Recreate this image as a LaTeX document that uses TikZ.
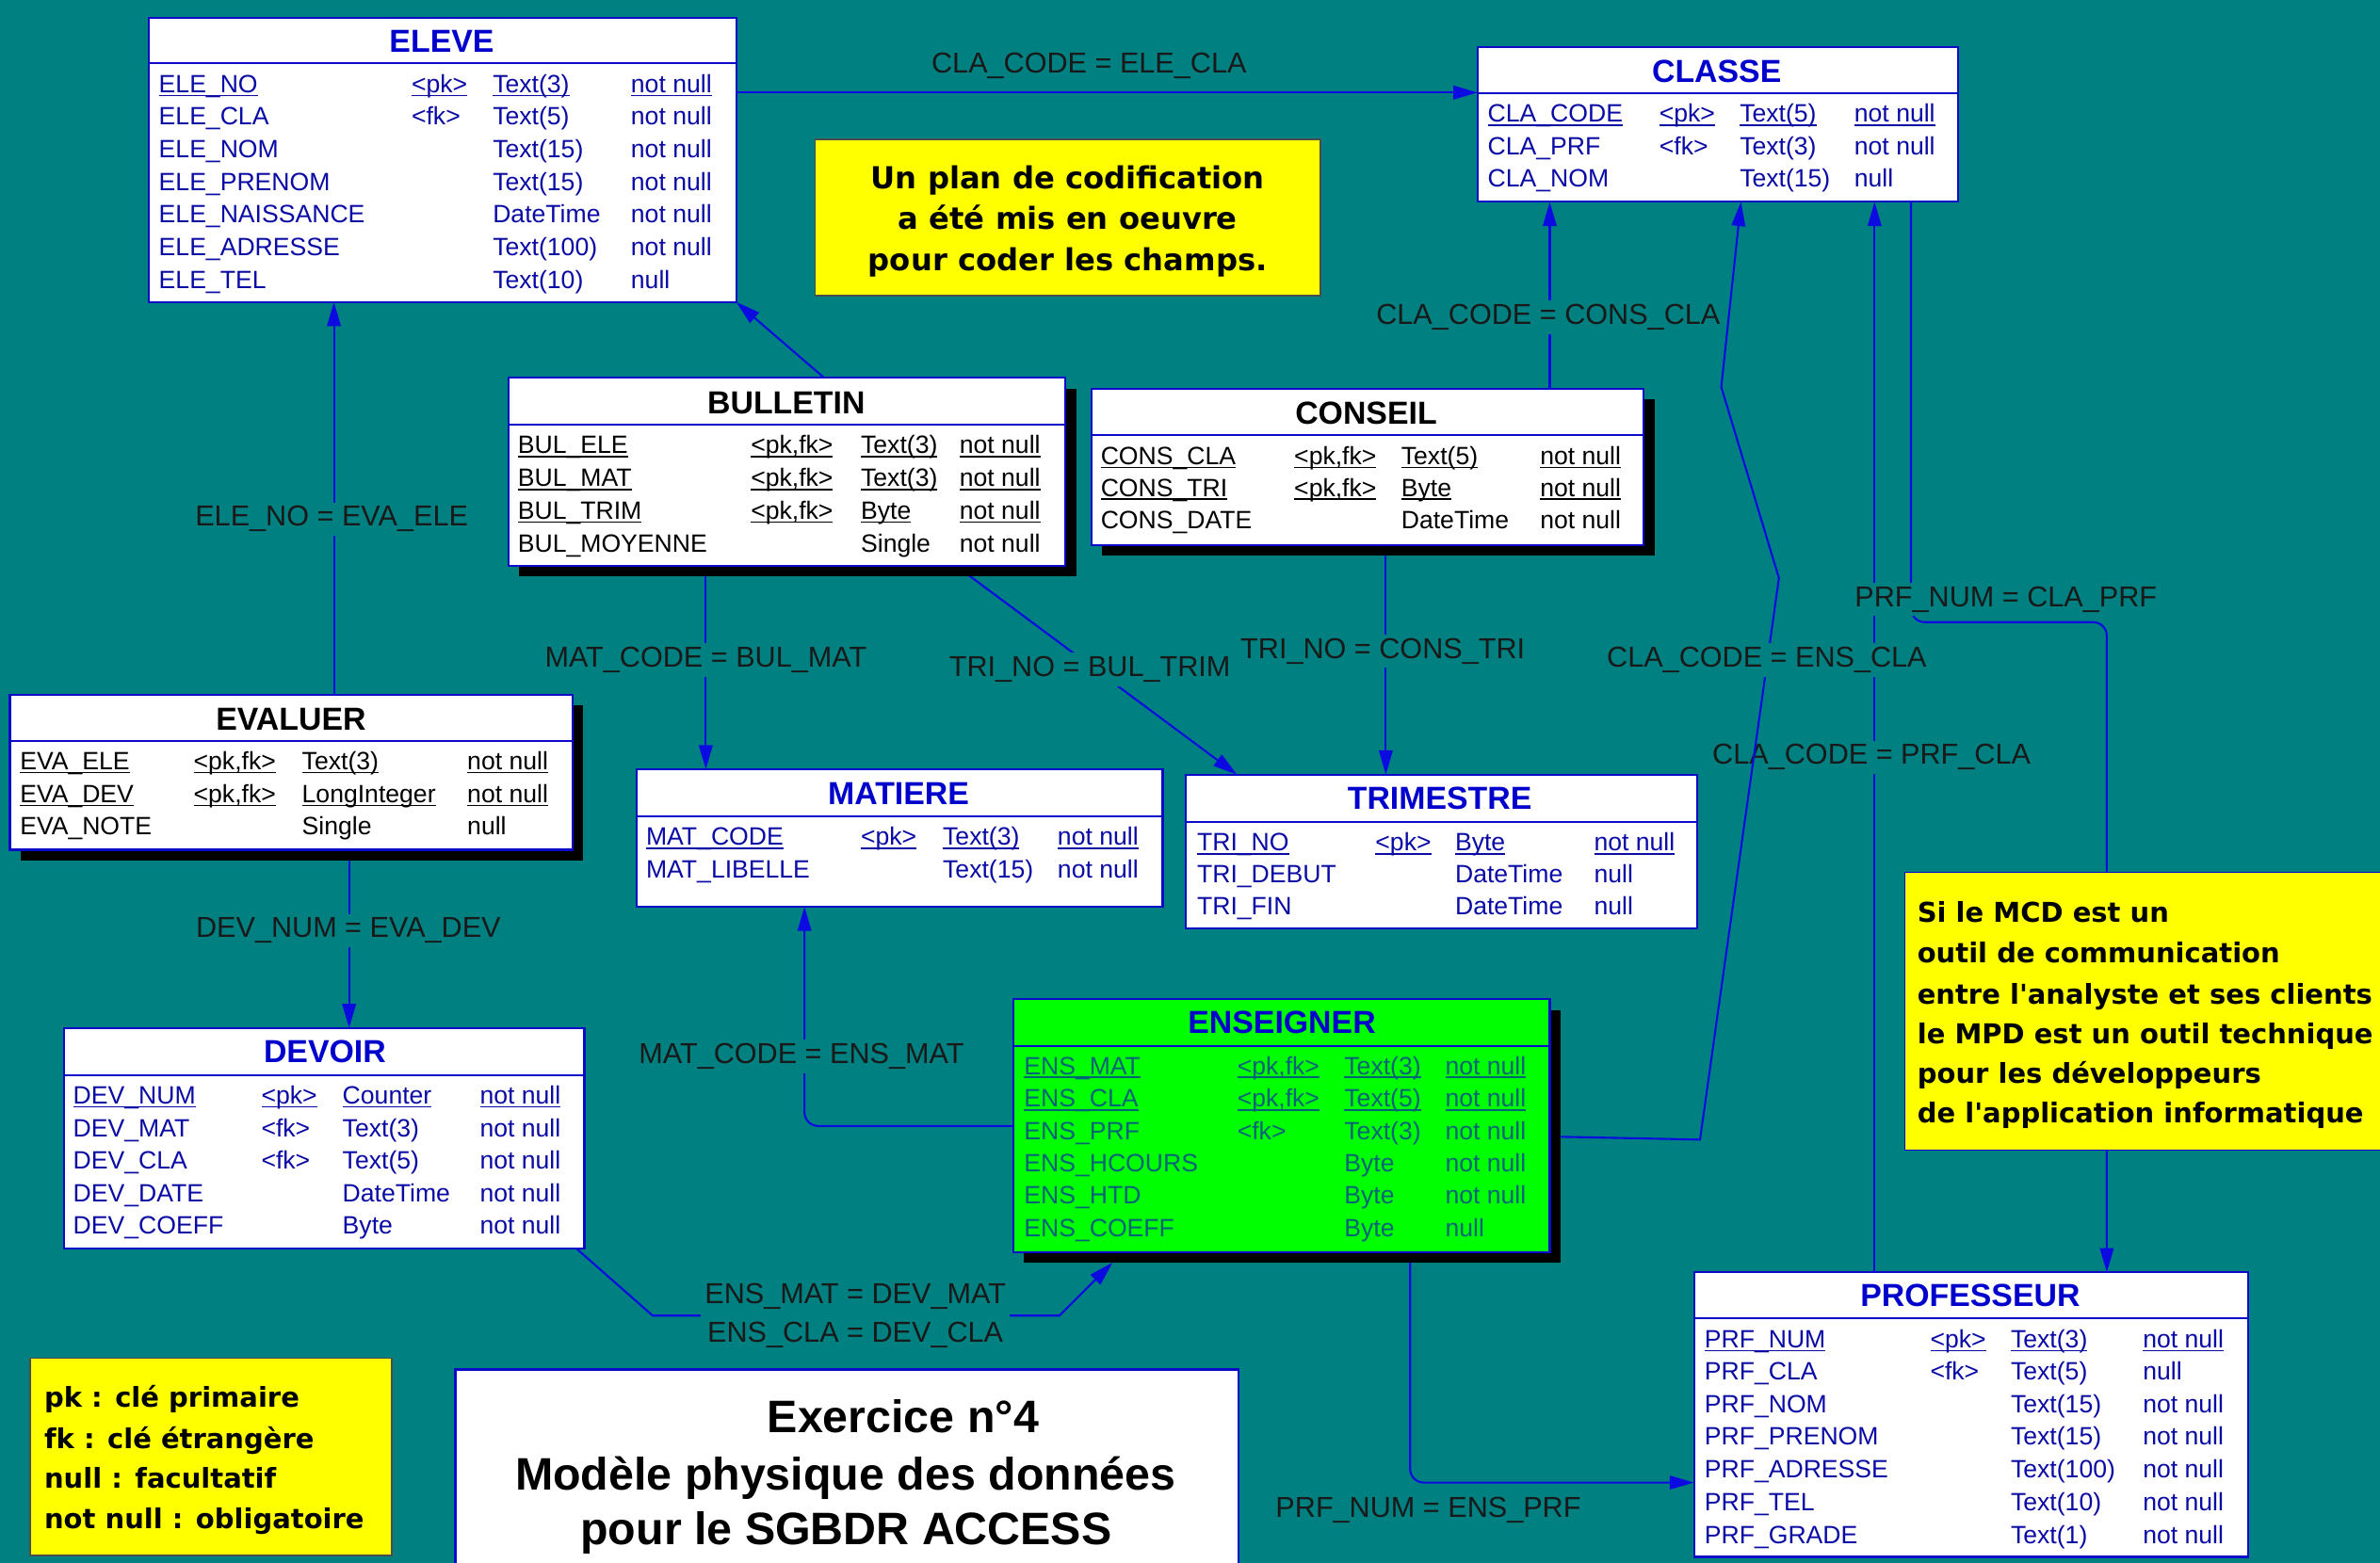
\documentclass[tikz,border=0pt]{standalone}
\usepackage{fontspec}
\setmainfont{Liberation Sans}
\newfontfamily\djv{DejaVu Sans}
\usetikzlibrary{arrows.meta}
\definecolor{bg}{RGB}{0,128,128}
\definecolor{bord}{RGB}{10,10,200}
\definecolor{lineb}{RGB}{10,10,225}
\definecolor{ftxt}{RGB}{10,10,165}
\definecolor{ttlb}{RGB}{0,0,205}
\definecolor{lbl}{RGB}{25,25,25}
\definecolor{enstxt}{RGB}{0,100,120}
\definecolor{grn}{RGB}{0,255,0}
\definecolor{yel}{RGB}{255,255,0}
\pgfdeclarelayer{bgl}
\pgfdeclarelayer{lines}
\pgfsetlayers{bgl,lines,main}
\newcommand\ulx[1]{\setbox0\hbox{#1}\rlap{\rule[-2.6pt]{\wd0}{1.1pt}}\box0}
\def\fcol{ftxt}
\tikzset{
 tblbox/.style={draw=bord, line width=1.3pt, inner sep=0pt, outer sep=0pt},
 shbox/.style={fill=black, draw=none, inner sep=0pt, outer sep=0pt},
 sepline/.style={draw=bord, line width=1.2pt},
 fld/.style={anchor=base west, inner sep=0pt, font=\fontsize{16.5}{18}\selectfont, text=\fcol},
 ttl/.style={anchor=base, inner sep=0pt, font=\fontsize{21}{24}\selectfont\bfseries},
 conn/.style={draw=lineb, line width=1.3pt, -{Triangle[length=16pt,width=9pt]}},
 lab/.style={anchor=base, fill=bg, inner sep=2.5pt, text=lbl, font=\fontsize{19}{25.5}\selectfont},
 notebox/.style={fill=yel, line width=1pt, inner sep=0pt, outer sep=0pt, anchor=north west},
 notet/.style={inner sep=0pt, text=black},
}
\newcommand\tbl[7][white]{%
 \node[tblbox,fill=#1,minimum width=#5-#3,minimum height=#6-#4,anchor=north west] (#2) at (#3,#4) {};
 \draw[sepline] (#2.west |- 0,#7) -- (#2.east |- 0,#7);}
\newcommand\shd[5]{%
 \node[shbox,minimum width=#4-#2,minimum height=#5-#3,anchor=north west] (#1-sh) at (#2+7,#3+7) {};}
\newcommand\trow[7]{%
 \node[fld] (#1-#2a) at (\cA,#3+6) {#4};
 \node[fld] (#1-#2b) at (\cB,#3+6) {#5};
 \node[fld] (#1-#2c) at (\cC,#3+6) {#6};
 \node[fld] (#1-#2d) at (\cD,#3+6) {#7};}
\newcommand\urow[7]{%
 \node[fld] (#1-#2a) at (\cA,#3+6) {\ulx{#4}};
 \node[fld] (#1-#2b) at (\cB,#3+6) {\ulx{#5}};
 \node[fld] (#1-#2c) at (\cC,#3+6) {\ulx{#6}};
 \node[fld] (#1-#2d) at (\cD,#3+6) {\ulx{#7}};}
\begin{document}
\begin{tikzpicture}[x=1pt,y=-1pt]
\useasboundingbox (0,0) rectangle (1568,1030);
\begin{pgfonlayer}{bgl}
\fill[bg] (0,0) rectangle (1568,1030);
\end{pgfonlayer}

% ELEVE
\def\cA{104.5}\def\cB{271}\def\cC{324.5}\def\cD{415.5}
\tbl{eleve}{98}{12}{485}{199}{41.5}
\node[ttl,text=ttlb] (eleve-t) at (291,34.5) {ELEVE};
\urow{eleve}{1}{55}{ELE\_NO}{<pk>}{Text(3)}{not null}
\trow{eleve}{2}{76.5}{ELE\_CLA}{<fk>}{Text(5)}{not null}
\trow{eleve}{3}{98}{ELE\_NOM}{}{Text(15)}{not null}
\trow{eleve}{4}{119.5}{ELE\_PRENOM}{}{Text(15)}{not null}
\trow{eleve}{5}{141}{ELE\_NAISSANCE}{}{DateTime}{not null}
\trow{eleve}{6}{162.5}{ELE\_ADRESSE}{}{Text(100)}{not null}
\trow{eleve}{7}{184}{ELE\_TEL}{}{Text(10)}{null}

% CLASSE
\def\cA{980}\def\cB{1093}\def\cC{1146}\def\cD{1221.5}
\tbl{classe}{973.5}{31}{1290}{133}{61.5}
\node[ttl,text=ttlb] (classe-t) at (1131,54) {CLASSE};
\urow{classe}{1}{74.5}{CLA\_CODE}{<pk>}{Text(5)}{not null}
\trow{classe}{2}{95.8}{CLA\_PRF}{<fk>}{Text(3)}{not null}
\trow{classe}{3}{117}{CLA\_NOM}{}{Text(15)}{null}

% BULLETIN
\def\fcol{black}
\def\cA{341}\def\cB{494.5}\def\cC{567}\def\cD{632}
\shd{bulletin}{335}{249}{702}{373}
\tbl{bulletin}{335}{249}{702}{373}{280}
\node[ttl,text=black] (bulletin-t) at (518,273) {BULLETIN};
\urow{bulletin}{1}{292.7}{BUL\_ELE}{<pk,fk>}{Text(3)}{not null}
\urow{bulletin}{2}{314.5}{BUL\_MAT}{<pk,fk>}{Text(3)}{not null}
\urow{bulletin}{3}{336}{BUL\_TRIM}{<pk,fk>}{Byte}{not null}
\trow{bulletin}{4}{357.8}{BUL\_MOYENNE}{}{Single}{not null}

% CONSEIL
\def\cA{725}\def\cB{852.5}\def\cC{923}\def\cD{1014.5}
\shd{conseil}{719}{256}{1083}{359}
\tbl{conseil}{719}{256}{1083}{359}{286.5}
\node[ttl,text=black] (conseil-t) at (900,279.5) {CONSEIL};
\urow{conseil}{1}{300}{CONS\_CLA}{<pk,fk>}{Text(5)}{not null}
\urow{conseil}{2}{321}{CONS\_TRI}{<pk,fk>}{Byte}{not null}
\trow{conseil}{3}{342.5}{CONS\_DATE}{}{DateTime}{not null}

% EVALUER
\def\cA{13}\def\cB{127.4}\def\cC{198.8}\def\cD{307.7}
\shd{evaluer}{6.5}{458}{377}{560}
\tbl{evaluer}{6.5}{458}{377}{560}{488.5}
\node[ttl,text=black] (evaluer-t) at (191.7,481) {EVALUER};
\urow{evaluer}{1}{501}{EVA\_ELE}{<pk,fk>}{Text(3)}{not null}
\urow{evaluer}{2}{522.8}{EVA\_DEV}{<pk,fk>}{LongInteger}{not null}
\trow{evaluer}{3}{544}{EVA\_NOTE}{}{Single}{null}

% MATIERE
\def\fcol{ftxt}
\def\cA{425.5}\def\cB{567}\def\cC{621}\def\cD{696.6}
\tbl{matiere}{419.5}{507}{766}{597.5}{538}
\node[ttl,text=ttlb] (matiere-t) at (592,530.5) {MATIERE};
\urow{matiere}{1}{551}{MAT\_CODE}{<pk>}{Text(3)}{not null}
\trow{matiere}{2}{572.5}{MAT\_LIBELLE}{}{Text(15)}{not null}

% TRIMESTRE
\def\cA{788.5}\def\cB{906}\def\cC{958.5}\def\cD{1050}
\tbl{trimestre}{781}{510.5}{1118}{612}{541.5}
\node[ttl,text=ttlb] (trimestre-t) at (948.5,533.5) {TRIMESTRE};
\urow{trimestre}{1}{554.5}{TRI\_NO}{<pk>}{Byte}{not null}
\trow{trimestre}{2}{576}{TRI\_DEBUT}{}{DateTime}{null}
\trow{trimestre}{3}{597}{TRI\_FIN}{}{DateTime}{null}

% DEVOIR
\def\cA{48}\def\cB{172}\def\cC{225.5}\def\cD{316}
\tbl{devoir}{42}{677.5}{385}{823}{708.5}
\node[ttl,text=ttlb] (devoir-t) at (214,700.5) {DEVOIR};
\urow{devoir}{1}{721.4}{DEV\_NUM}{<pk>}{Counter}{not null}
\trow{devoir}{2}{743}{DEV\_MAT}{<fk>}{Text(3)}{not null}
\trow{devoir}{3}{764.3}{DEV\_CLA}{<fk>}{Text(5)}{not null}
\trow{devoir}{4}{786}{DEV\_DATE}{}{DateTime}{not null}
\trow{devoir}{5}{807.3}{DEV\_COEFF}{}{Byte}{not null}

% ENSEIGNER
\def\fcol{enstxt}
\def\cA{674.5}\def\cB{815}\def\cC{885.5}\def\cD{952}
\shd{enseigner}{667.5}{658.5}{1021}{825}
\tbl[grn]{enseigner}{667.5}{658.5}{1021}{825}{689.5}
\node[ttl,text=ttlb] (enseigner-t) at (844.5,681) {ENSEIGNER};
\urow{enseigner}{1}{702}{ENS\_MAT}{<pk,fk>}{Text(3)}{not null}
\urow{enseigner}{2}{723.5}{ENS\_CLA}{<pk,fk>}{Text(5)}{not null}
\trow{enseigner}{3}{745}{ENS\_PRF}{<fk>}{Text(3)}{not null}
\trow{enseigner}{4}{766}{ENS\_HCOURS}{}{Byte}{not null}
\trow{enseigner}{5}{787.5}{ENS\_HTD}{}{Byte}{not null}
\trow{enseigner}{6}{809}{ENS\_COEFF}{}{Byte}{null}

% PROFESSEUR
\def\fcol{ftxt}
\def\cA{1122.8}\def\cB{1271.5}\def\cC{1324.6}\def\cD{1411.6}
\tbl{professeur}{1116}{838.5}{1481}{1026}{868.5}
\node[ttl,text=ttlb] (professeur-t) at (1298,861) {PROFESSEUR};
\urow{professeur}{1}{882}{PRF\_NUM}{<pk>}{Text(3)}{not null}
\trow{professeur}{2}{903.4}{PRF\_CLA}{<fk>}{Text(5)}{null}
\trow{professeur}{3}{925}{PRF\_NOM}{}{Text(15)}{not null}
\trow{professeur}{4}{946.3}{PRF\_PRENOM}{}{Text(15)}{not null}
\trow{professeur}{5}{968}{PRF\_ADRESSE}{}{Text(100)}{not null}
\trow{professeur}{6}{989.7}{PRF\_TEL}{}{Text(10)}{not null}
\trow{professeur}{7}{1011}{PRF\_GRADE}{}{Text(1)}{not null}

% Notes
\node[notebox,draw=black!70,minimum width=333,minimum height=103] (note1) at (537,92) {};
\begin{scope}[every node/.style={notet,anchor=base,font=\djv\fontsize{20}{24}\selectfont\bfseries}]
\node (note1-a) at (703.5,124.3) {Un plan de codification};
\node (note1-b) at (703.5,151.3) {a été mis en oeuvre};
\node (note1-c) at (703.5,178.3) {pour coder les champs.};
\end{scope}

\node[notebox,draw=bord,minimum width=330,minimum height=183] (note2) at (1255,575) {};
\begin{scope}[every node/.style={notet,anchor=base west,font=\djv\fontsize{18}{22}\selectfont\bfseries}]
\node (note2-a) at (1263,607.6) {Si le MCD est un};
\node (note2-b) at (1263,634.6) {outil de communication};
\node (note2-c) at (1263,661.6) {entre l'analyste et ses clients};
\node (note2-d) at (1263,687.6) {le MPD est un outil technique};
\node (note2-e) at (1263,713.6) {pour les développeurs};
\node (note2-f) at (1263,740.1) {de l'application informatique};
\end{scope}

\node[notebox,draw=black!70,minimum width=238,minimum height=130] (legend) at (20,895) {};
\begin{scope}[every node/.style={notet,anchor=base west,font=\djv\fontsize{18}{22}\selectfont\bfseries}]
\node (legend-a) at (29,927.6) {pk : clé primaire};
\node (legend-b) at (29,954.6) {fk : clé étrangère};
\node (legend-c) at (29,980.6) {null : facultatif};
\node (legend-d) at (29,1007.6) {not null : obligatoire};
\end{scope}

\node[tblbox,fill=white,minimum width=516,minimum height=140,anchor=north west] (exo) at (300,902.5) {};
\begin{scope}[every node/.style={notet,anchor=base,font=\fontsize{30}{34}\selectfont\bfseries}]
\node (exo-a) at (595,944.2) {Exercice n°4};
\node (exo-b) at (557,981.7) {Modèle physique des données};
\node (exo-c) at (557.5,1017.7) {pour le SGBDR ACCESS};
\end{scope}

% Connectors
\begin{pgfonlayer}{lines}
\draw[conn] (eleve.east |- 0,61) -- (classe.west |- 0,61);
\draw[conn] (evaluer.north -| 220,0) -- (eleve.south -| 220,0);
\draw[conn] (evaluer-sh.south -| 230,0) -- (devoir.north -| 230,0);
\draw[conn] (bulletin.north -| 543,0) -- (eleve.south east);
\draw[conn] (bulletin.south -| 465,0) -- (matiere.north -| 465,0);
\draw[conn] (bulletin.south -| 630,0) -- (trimestre.north -| 815,0);
\draw[conn] (conseil.south -| 913,0) -- (trimestre.north -| 913,0);
\draw[conn] (conseil.north -| 1021,0) -- (classe.south -| 1021,0);
\draw[conn] (professeur.north -| 1235,0) -- (classe.south -| 1235,0);
\draw[conn,rounded corners=9pt] (classe.south -| 1259,0) -- (1259,410) -- (1388,410) -- (professeur.north -| 1388,0);
\draw[conn,rounded corners=9pt] (enseigner.west |- 0,742) -- (530,742) -- (matiere.south -| 530,0);
\draw[conn] ([xshift=-5pt]devoir.south east) -- (430,867) -- (698,867) -- (enseigner-sh.south -| 733,0);
\draw[conn,rounded corners=9pt] (enseigner.south -| 929,0) -- (929,977) -- (professeur.west |- 0,977);

\node[lab] (l1) at (717.5,47.8) {CLA\_CODE = ELE\_CLA};
\node[lab] (l2) at (218.5,346.8) {ELE\_NO = EVA\_ELE};
\node[lab] (l3) at (229.5,617.8) {DEV\_NUM = EVA\_DEV};
\node[lab] (l4) at (465,439.8) {MAT\_CODE = BUL\_MAT};
\node[lab] (l5) at (718,445.8) {TRI\_NO = BUL\_TRIM};
\node[lab] (l6) at (911,433.8) {TRI\_NO = CONS\_TRI};
\node[lab] (l7) at (1020,213.8) {CLA\_CODE = CONS\_CLA};
\node[lab] (l8) at (1233,503.8) {CLA\_CODE = PRF\_CLA};
\node[lab] (l9) at (1321.5,399.8) {PRF\_NUM = CLA\_PRF};
\node[lab] (l10) at (528,700.8) {MAT\_CODE = ENS\_MAT};
\node[lab,anchor=center,align=center] (l11) at (563.5,867) {ENS\_MAT = DEV\_MAT\\ENS\_CLA = DEV\_CLA};
\node[lab] (l12) at (941,999.8) {PRF\_NUM = ENS\_PRF};

\draw[conn] (enseigner.east |- 0,749) -- (1120,751) -- (1172,381) -- (1134,255) -- (classe.south -| 1147,0);
\node[lab] (l13) at (1164,439.8) {CLA\_CODE = ENS\_CLA};
\end{pgfonlayer}
\end{tikzpicture}
\end{document}
